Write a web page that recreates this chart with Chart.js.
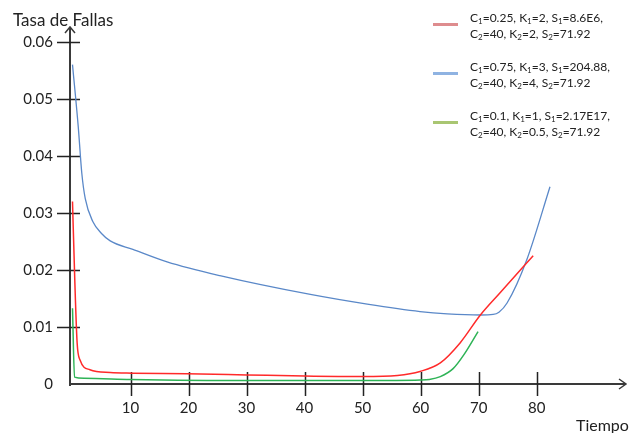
<!DOCTYPE html>
<html lang="es">
<head>
  <meta charset="UTF-8" />
  <title>Tasa de Fallas</title>
  <script src="https://cdn.jsdelivr.net/npm/chart.js"></script>
  <style>
    body {
      margin: 0;
      background: #fff;
      font-family: 'Lato', sans-serif;
      color: #222;
    }

    .wrap {
      position: relative;
      width: 632px;
      height: 433px;
    }

    .axis-title {
      position: absolute;
      font-size: 17px;
      line-height: 20px;
      white-space: nowrap;
    }

    .legend {
      position: absolute;
      left: 433px;
      top: 9px;
      font-size: 12px;
    }

    .legend .item {
      display: flex;
      align-items: center;
      height: 33px;
      margin-bottom: 16px;
    }

    .legend .swatch {
      width: 25px;
      height: 3px;
      margin-right: 12px;
      margin-top: -2px;
    }

    .legend .text {
      line-height: 16px;
      white-space: nowrap;
    }

    .legend sub {
      font-size: 8px;
      vertical-align: -2px;
      line-height: 0;
    }
  </style>
</head>
<body>
  <div class="wrap">
    <canvas id="chart" width="632" height="433"></canvas>
    <div class="axis-title" style="left:13px; top:10px;">Tasa de Fallas</div>
    <div class="axis-title" style="left:576px; top:415px; font-size:16px;">Tiempo</div>
    <div class="legend" id="legend"></div>
  </div>

  <script>
    // values
    const xTicks = [10, 20, 30, 40, 50, 60, 70, 80];
    const yTicks = [0, 0.01, 0.02, 0.03, 0.04, 0.05, 0.06];
    const yTickLabels = ['0', '0.01', '0.02', '0.03', '0.04', '0.05', '0.06'];

    const redX = [0, 0.4, 0.8, 1.3, 3.0, 6.5, 10.4, 19.7, 30, 40, 50, 56, 59.9, 63.4, 66.8, 70.3, 73.7, 79.4];
    const redY = [0.032, 0.018, 0.0072, 0.0042, 0.0025, 0.002, 0.0019, 0.0018, 0.0016, 0.0014, 0.0013, 0.0015, 0.0022, 0.0037, 0.0072, 0.0121, 0.016, 0.0225];

    const blueX = [0, 1.0, 1.6, 2.2, 3.5, 5.0, 6.5, 10.4, 16.3, 25.4, 41, 50.8, 59.9, 64.6, 70.3, 72.5, 73.5, 74.9, 78.3, 82.3];
    const blueY = [0.056, 0.045, 0.037, 0.0325, 0.0285, 0.0264, 0.0251, 0.0236, 0.0214, 0.019, 0.0157, 0.014, 0.0127, 0.0123, 0.0121, 0.0122, 0.0126, 0.0142, 0.0218, 0.0346];

    const greenX = [0, 0.35, 2, 10, 30, 50, 59.9, 61.5, 63.4, 65.6, 67.5, 69.9];
    const greenY = [0.0133, 0.0012, 0.001, 0.0008, 0.0006, 0.0006, 0.0007, 0.0008, 0.0013, 0.0027, 0.0052, 0.0092];

    const seriesLabels = [
      ['C<sub>1</sub>=0.25, K<sub>1</sub>=2, S<sub>1</sub>=8.6E6,', 'C<sub>2</sub>=40, K<sub>2</sub>=2, S<sub>2</sub>=71.92'],
      ['C<sub>1</sub>=0.75, K<sub>1</sub>=3, S<sub>1</sub>=204.88,', 'C<sub>2</sub>=40, K<sub>2</sub>=4, S<sub>2</sub>=71.92'],
      ['C<sub>1</sub>=0.1, K<sub>1</sub>=1, S<sub>1</sub>=2.17E17,', 'C<sub>2</sub>=40, K<sub>2</sub>=0.5, S<sub>2</sub>=71.92']
    ];
    const lineColors = ['#ff2a2a', '#5a88c8', '#2eb356'];
    const legendColors = ['#de8c8e', '#8fb3e2', '#a9c672'];

    const toPoints = (xs, ys) => xs.map((x, i) => ({ x: x, y: ys[i] }));

    // legend
    const legend = document.getElementById('legend');
    seriesLabels.forEach((lines, i) => {
      const item = document.createElement('div');
      item.className = 'item';
      item.innerHTML = '<span class="swatch" style="background:' + legendColors[i] + '"></span>' +
        '<span class="text">' + lines.join('<br>') + '</span>';
      legend.appendChild(item);
    });

    // axes with arrows and crossing tick marks
    const arrowAxes = {
      id: 'arrowAxes',
      beforeDatasetsDraw(chart) {
        const { ctx, chartArea, scales } = chart;
        const left = chartArea.left, bottom = chartArea.bottom;
        ctx.save();
        ctx.strokeStyle = '#3a3a3a';
        ctx.lineWidth = 2;
        ctx.beginPath();
        ctx.moveTo(left, bottom + 2);
        ctx.lineTo(left, chartArea.top);
        ctx.moveTo(left - 1, bottom);
        ctx.lineTo(chartArea.right, bottom);
        ctx.stroke();

        ctx.lineWidth = 1.5;
        ctx.beginPath();
        ctx.moveTo(left - 5, chartArea.top + 6);
        ctx.lineTo(left, chartArea.top);
        ctx.lineTo(left + 5, chartArea.top + 6);
        ctx.moveTo(chartArea.right - 7, bottom - 5);
        ctx.lineTo(chartArea.right, bottom);
        ctx.lineTo(chartArea.right - 7, bottom + 5);
        ctx.stroke();

        ctx.lineWidth = 1.5;
        ctx.strokeStyle = '#222';
        ctx.beginPath();
        xTicks.forEach(v => {
          const px = Math.round(scales.x.getPixelForValue(v)) + 0.5;
          ctx.moveTo(px, bottom - 12);
          ctx.lineTo(px, bottom + 12);
        });
        yTicks.forEach(v => {
          if (v === 0) return;
          const py = Math.round(scales.y.getPixelForValue(v)) + 0.5;
          ctx.moveTo(left - 13, py);
          ctx.lineTo(left + 10, py);
        });
        ctx.stroke();
        ctx.restore();
      }
    };

    const tickFont = { family: 'Lato', size: 15 };

    new Chart(document.getElementById('chart'), {
      type: 'line',
      data: {
        datasets: [
          { data: toPoints(redX, redY), borderColor: lineColors[0], borderWidth: 1.5 },
          { data: toPoints(blueX, blueY), borderColor: lineColors[1], borderWidth: 1.3 },
          { data: toPoints(greenX, greenY), borderColor: lineColors[2], borderWidth: 1.5 }
        ]
      },
      options: {
        responsive: false,
        animation: false,
        elements: {
          point: { radius: 0 },
          line: { cubicInterpolationMode: 'monotone', fill: false }
        },
        layout: { padding: { top: 27, right: 6, left: 0, bottom: 0 } },
        plugins: {
          legend: { display: false },
          tooltip: { enabled: false }
        },
        scales: {
          x: {
            type: 'linear',
            min: -0.43,
            max: 95.4,
            grid: { display: false, drawTicks: false },
            border: { display: false },
            afterBuildTicks: scale => { scale.ticks = xTicks.map(v => ({ value: v })); },
            afterFit: scale => { scale.height = 49; },
            ticks: { color: '#222', font: tickFont, padding: 15, maxRotation: 0 }
          },
          y: {
            min: 0,
            max: 0.0626,
            grid: { display: false, drawTicks: false },
            border: { display: false },
            afterBuildTicks: scale => { scale.ticks = yTicks.map(v => ({ value: v })); },
            afterFit: scale => { scale.width = 70; },
            ticks: {
              color: '#222',
              font: tickFont,
              padding: 17,
              callback: (v) => yTickLabels[yTicks.indexOf(v)]
            }
          }
        }
      },
      plugins: [arrowAxes]
    });
  </script>
</body>
</html>
